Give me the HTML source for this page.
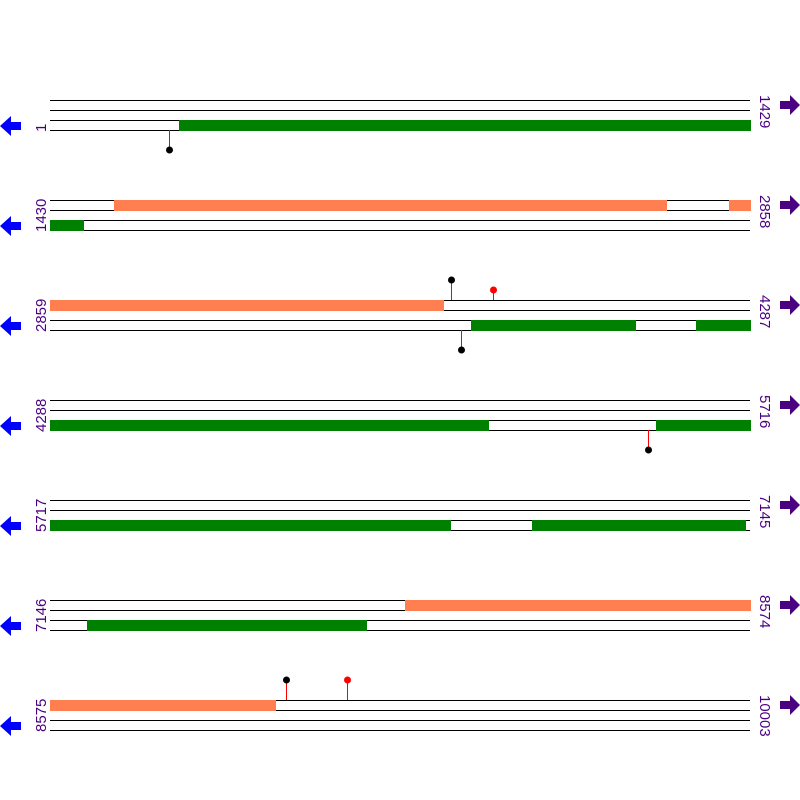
<!DOCTYPE html>
<html><head><meta charset="utf-8"><style>html,body{margin:0;padding:0;background:#fff}svg{display:block}</style></head><body>
<svg width="800" height="800" viewBox="0 0 800 800" xmlns="http://www.w3.org/2000/svg" font-family="Liberation Sans, sans-serif" font-size="15">
<defs>
<g id="tr" stroke="#000" stroke-width="1">
<line x1="50" x2="750" y1="0.5" y2="0.5"/><line x1="50" x2="750" y1="10.5" y2="10.5"/><line x1="50" x2="750" y1="20.5" y2="20.5"/><line x1="50" x2="750" y1="30.5" y2="30.5"/>
</g>
<polygon id="la" points="0,26 11,16 11,22 21,22 21,30 11,30 11,36" fill="#0000ff"/>
<polygon id="ra" points="800,5 790,-5 790,1 780,1 780,9 790,9 790,15" fill="#4b0082"/>
</defs>
<g transform="translate(0,100)"><use href="#tr"/><use href="#la"/><use href="#ra"/>
<rect x="179" y="20" width="572" height="11" fill="#008000"/>
<line x1="169.5" x2="169.5" y1="30" y2="50" stroke="#f00"/><circle cx="169.5" cy="50" r="3.5" fill="#000"/>
<text transform="translate(46,32) rotate(-90)" fill="#4b0082">1</text>
<text transform="translate(760,-5) rotate(90)" fill="#4b0082">1429</text></g>
<g transform="translate(0,200)"><use href="#tr"/><use href="#la"/><use href="#ra"/>
<rect x="114" y="0" width="553" height="11" fill="#ff7f50"/>
<rect x="729" y="0" width="22" height="11" fill="#ff7f50"/>
<rect x="50" y="20" width="34" height="11" fill="#008000"/>
<text transform="translate(46,32) rotate(-90)" fill="#4b0082">1430</text>
<text transform="translate(760,-5) rotate(90)" fill="#4b0082">2858</text></g>
<g transform="translate(0,300)"><use href="#tr"/><use href="#la"/><use href="#ra"/>
<rect x="50" y="0" width="394" height="11" fill="#ff7f50"/>
<rect x="471" y="20" width="165" height="11" fill="#008000"/>
<rect x="696" y="20" width="55" height="11" fill="#008000"/>
<line x1="451.5" x2="451.5" y1="0" y2="-20" stroke="#f00"/><circle cx="451.5" cy="-20" r="3.5" fill="#000"/>
<line x1="493.5" x2="493.5" y1="0" y2="-10" stroke="#f00"/><circle cx="493.5" cy="-10" r="3.5" fill="#f00"/>
<line x1="461.5" x2="461.5" y1="30" y2="50" stroke="#f00"/><circle cx="461.5" cy="50" r="3.5" fill="#000"/>
<text transform="translate(46,32) rotate(-90)" fill="#4b0082">2859</text>
<text transform="translate(760,-5) rotate(90)" fill="#4b0082">4287</text></g>
<g transform="translate(0,400)"><use href="#tr"/><use href="#la"/><use href="#ra"/>
<rect x="50" y="20" width="439" height="11" fill="#008000"/>
<rect x="656" y="20" width="95" height="11" fill="#008000"/>
<line x1="648.5" x2="648.5" y1="30" y2="50" stroke="#f00"/><circle cx="648.5" cy="50" r="3.5" fill="#000"/>
<text transform="translate(46,32) rotate(-90)" fill="#4b0082">4288</text>
<text transform="translate(760,-5) rotate(90)" fill="#4b0082">5716</text></g>
<g transform="translate(0,500)"><use href="#tr"/><use href="#la"/><use href="#ra"/>
<rect x="50" y="20" width="401" height="11" fill="#008000"/>
<rect x="532" y="20" width="214" height="11" fill="#008000"/>
<text transform="translate(46,32) rotate(-90)" fill="#4b0082">5717</text>
<text transform="translate(760,-5) rotate(90)" fill="#4b0082">7145</text></g>
<g transform="translate(0,600)"><use href="#tr"/><use href="#la"/><use href="#ra"/>
<rect x="405" y="0" width="346" height="11" fill="#ff7f50"/>
<rect x="87" y="20" width="280" height="11" fill="#008000"/>
<text transform="translate(46,32) rotate(-90)" fill="#4b0082">7146</text>
<text transform="translate(760,-5) rotate(90)" fill="#4b0082">8574</text></g>
<g transform="translate(0,700)"><use href="#tr"/><use href="#la"/><use href="#ra"/>
<rect x="50" y="0" width="226" height="11" fill="#ff7f50"/>
<line x1="286.5" x2="286.5" y1="0" y2="-20" stroke="#f00"/><circle cx="286.5" cy="-20" r="3.5" fill="#000"/>
<line x1="347.5" x2="347.5" y1="0" y2="-20" stroke="#f00"/><circle cx="347.5" cy="-20" r="3.5" fill="#f00"/>
<text transform="translate(46,32) rotate(-90)" fill="#4b0082">8575</text>
<text transform="translate(760,-5) rotate(90)" fill="#4b0082">10003</text></g>
</svg>
</body></html>
